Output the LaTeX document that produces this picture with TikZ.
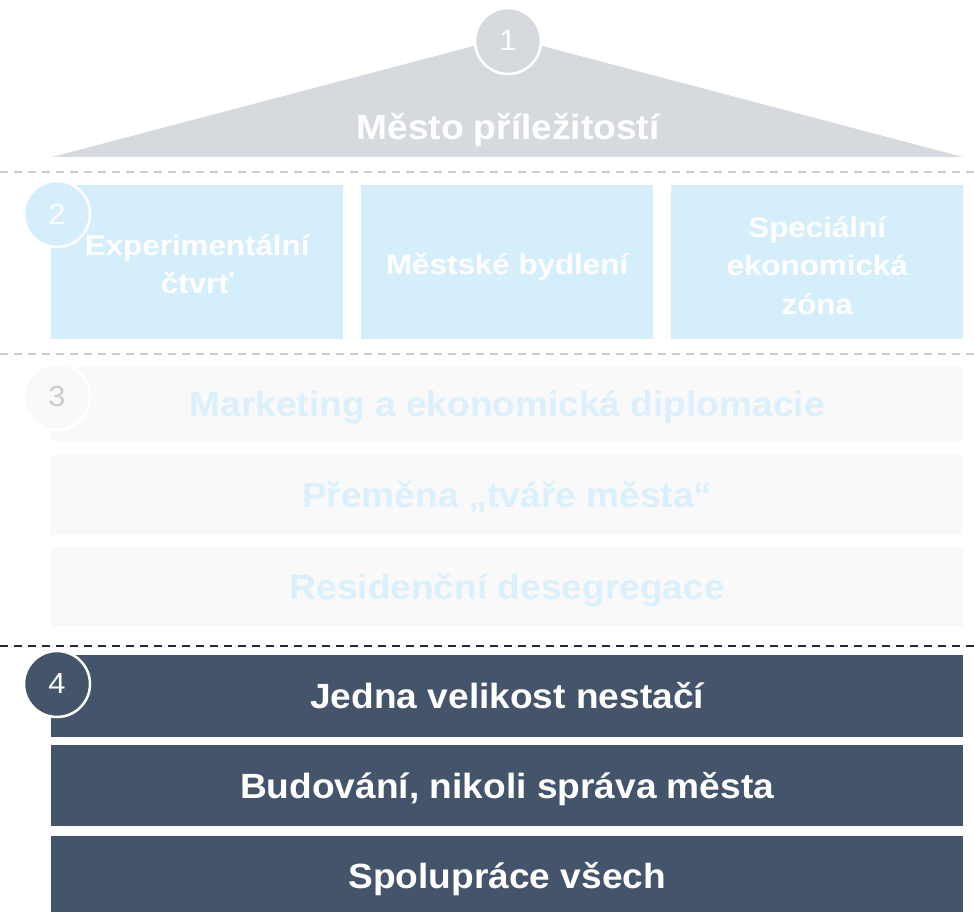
\documentclass[tikz,border=0pt]{standalone}
\usepackage{fontspec}
\setmainfont[FakeStretch=1.06]{Liberation Sans}
\newfontfamily\rowtwofont[FakeStretch=1.1]{Liberation Sans}
\definecolor{roofgray}{HTML}{D6DADE}
\definecolor{dashgray}{HTML}{C9CCD1}
\definecolor{dashdark}{HTML}{1F2937}
\definecolor{lightblue}{HTML}{D5EEFB}
\definecolor{paleblue}{HTML}{DAF0FC}
\definecolor{palegray}{HTML}{F9F9F9}
\definecolor{digitgray}{HTML}{CCCCCC}
\definecolor{slate}{HTML}{44546A}
\begin{document}
\begin{tikzpicture}[x=1pt,y=-1pt,
  boxbase/.style={rectangle,inner sep=0pt,anchor=north west,align=center,text height=25pt,text depth=0pt,font=\bfseries\fontsize{35}{40}\selectfont},
  bluebox/.style={rectangle,inner sep=0pt,align=center,fill=lightblue,minimum width=292pt,minimum height=154pt},
  bluetext/.style={inner sep=0pt,align=center,text=white,font=\rowtwofont\bfseries\fontsize{28.5}{38.5}\selectfont},
  palebox/.style={boxbase,fill=palegray,text=paleblue,minimum width=912pt},
  slatebox/.style={boxbase,fill=slate,text=white,minimum width=912pt},
  numcirc/.style={circle,minimum size=66pt,inner sep=0pt,draw=white,line width=2.5pt,font=\fontsize{29}{29}\selectfont},
  sepline/.style={line width=1.5pt,dash pattern=on 8pt off 6pt}
]
\useasboundingbox (0,0) rectangle (974,912);
% roof
\fill[roofgray] (52,157) -- (508,37) -- (963,157) -- cycle;
\node[text=white,anchor=base,inner sep=0pt,font=\bfseries\fontsize{35}{40}\selectfont] (title) at (508,140) {Město příležitostí};
\node[numcirc,fill=roofgray,text=white] (c1) at (508,41) {1};
% separators
\coordinate (s1a) at (0,172); \coordinate (s1b) at (974,172);
\coordinate (s2a) at (0,354); \coordinate (s2b) at (974,354);
\coordinate (s3a) at (0,646); \coordinate (s3b) at (974,646);
\draw[sepline,dashgray] (s1a) -- (s1b);
\draw[sepline,dashgray] (s2a) -- (s2b);
\draw[sepline,dashdark] (s3a) -- (s3b);
% row 2
\node[bluebox,anchor=north west] (b21) at (51,185) {};
\node[bluebox,anchor=north west] (b22) at (361,185) {};
\node[bluebox,anchor=north west] (b23) at (671,185) {};
\node[bluetext,yshift=-2pt] (t21) at (b21.center) {Experimentální\\čtvrť};
\node[bluetext,yshift=-5pt] (t22) at (b22.center) {Městské bydlení};
\node[bluetext,yshift=-3pt] (t23) at (b23.center) {Speciální\\ekonomická\\zóna};
\node[numcirc,fill=lightblue,text=white] (c2) at (57,214) {2};
% row 3
\node[palebox,minimum height=74pt] (b31) at (51,367) {Marketing a ekonomická diplomacie};
\node[palebox,minimum height=80pt] (b32) at (51,455) {Přeměna „tváře města“};
\node[palebox,minimum height=80pt] (b33) at (51,547) {Residenční desegregace};
\node[numcirc,fill=palegray,text=digitgray] (c3) at (57,397) {3};
% row 4
\node[slatebox,minimum height=82pt] (b41) at (51,655) {Jedna velikost nestačí};
\node[slatebox,minimum height=81pt] (b42) at (51,745) {Budování, nikoli správa města};
\node[slatebox,minimum height=80pt] (b43) at (51,836) {Spolupráce všech};
\node[numcirc,fill=slate,text=white] (c4) at (57,684) {4};
\end{tikzpicture}
\end{document}
